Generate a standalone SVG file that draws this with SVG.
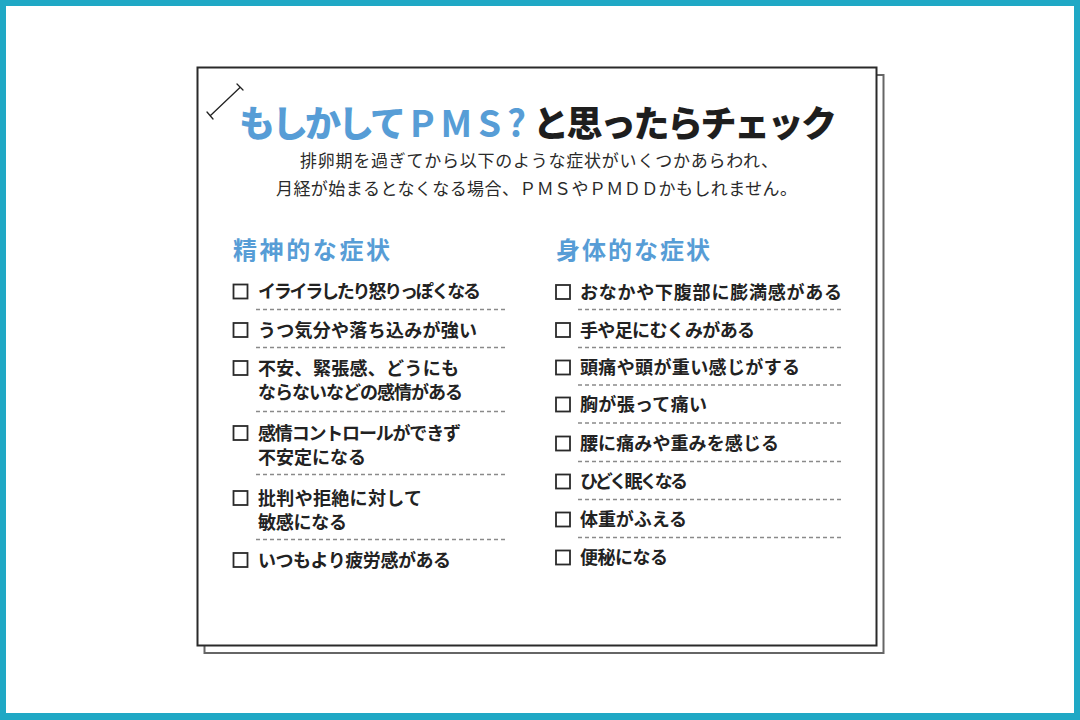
<svg xmlns="http://www.w3.org/2000/svg" width="1080" height="720" viewBox="0 0 1080 720">
<style>
.jp{font-family:"Noto Sans CJK JP","Noto Sans",sans-serif}
.title{font-size:36px;font-weight:800}
.latin{font-size:37px;font-weight:700}
.blue{fill:#579dd6}
.dark{fill:#1e1e1e}
.sub{font-size:17px;font-weight:400;fill:#2a2a2a}
.head{font-size:24px;font-weight:700;fill:#579dd6}
.item{font-size:18px;font-weight:600;fill:#222}
.box{fill:none;stroke:#2a2a2a;stroke-width:1.8}
.dash{stroke:#8a8a8a;stroke-width:1.3;stroke-dasharray:4 3;fill:none}
</style>
<rect x="0" y="0" width="1080" height="720" fill="#1fa8c5"/>
<rect x="6" y="6" width="1068" height="707" fill="#ffffff"/>
<g id="paper">
<rect x="204.5" y="75" width="679" height="578" fill="#fff" stroke="#666" stroke-width="2"/>
<rect x="197.5" y="67.5" width="679" height="578" fill="#fff" stroke="#2a2a2a" stroke-width="2"/>
<path d="M207,112 L213,119 M210.5,115.5 L240,87.5 M237,84 L243,90" fill="none" stroke="#222" stroke-width="1.3" stroke-linecap="round"/>
</g>
<g id="title">
<text class="jp title blue" x="239" y="137" textLength="167" lengthAdjust="spacing">もしかして</text>
<text class="jp latin blue" x="410" y="137" textLength="116" lengthAdjust="spacing">PMS?</text>
<text class="jp title dark" x="533" y="137" textLength="304" lengthAdjust="spacing">と思ったらチェック</text>
<text class="jp sub" x="300" y="167" textLength="478" lengthAdjust="spacing">排卵期を過ぎてから以下のような症状がいくつかあらわれ、</text>
<text class="jp sub" x="276" y="195" textLength="521" lengthAdjust="spacing">月経が始まるとなくなる場合、ＰＭＳやＰＭＤＤかもしれません。</text>
</g>
<g id="mental">
<text class="jp head" x="233" y="259" textLength="157" lengthAdjust="spacing">精神的な症状</text>
<g id="m1"><rect class="box" x="233.5" y="284.5" width="14" height="14"/><text class="jp item" x="258" y="297.5" textLength="223" lengthAdjust="spacing">イライラしたり怒りっぽくなる</text></g>
<g id="m2"><rect class="box" x="233.5" y="323" width="14" height="14"/><text class="jp item" x="258" y="336.5" textLength="219" lengthAdjust="spacing">うつ気分や落ち込みが強い</text></g>
<g id="m3"><rect class="box" x="233.5" y="361" width="14" height="14"/><text class="jp item" x="258" y="374.5" textLength="201" lengthAdjust="spacing">不安、緊張感、どうにも</text><text class="jp item" x="258" y="399" textLength="205" lengthAdjust="spacing">ならないなどの感情がある</text></g>
<g id="m4"><rect class="box" x="233.5" y="426" width="14" height="14"/><text class="jp item" x="258" y="439.5" textLength="203" lengthAdjust="spacing">感情コントロールができず</text><text class="jp item" x="258" y="464" textLength="108" lengthAdjust="spacing">不安定になる</text></g>
<g id="m5"><rect class="box" x="233.5" y="491" width="14" height="14"/><text class="jp item" x="258" y="504.5" textLength="164" lengthAdjust="spacing">批判や拒絶に対して</text><text class="jp item" x="258" y="529" textLength="89" lengthAdjust="spacing">敏感になる</text></g>
<g id="m6"><rect class="box" x="233.5" y="553" width="14" height="14"/><text class="jp item" x="258" y="566.5" textLength="193" lengthAdjust="spacing">いつもより疲労感がある</text></g>
</g>
<g id="physical">
<text class="jp head" x="556" y="259" textLength="154" lengthAdjust="spacing">身体的な症状</text>
<g id="p1"><rect class="box" x="556" y="285" width="14" height="14"/><text class="jp item" x="580" y="298.5" textLength="262" lengthAdjust="spacing">おなかや下腹部に膨満感がある</text></g>
<g id="p2"><rect class="box" x="556" y="323" width="14" height="14"/><text class="jp item" x="580" y="336.5" textLength="175" lengthAdjust="spacing">手や足にむくみがある</text></g>
<g id="p3"><rect class="box" x="556" y="360.5" width="14" height="14"/><text class="jp item" x="580" y="374" textLength="220" lengthAdjust="spacing">頭痛や頭が重い感じがする</text></g>
<g id="p4"><rect class="box" x="556" y="397.5" width="14" height="14"/><text class="jp item" x="580" y="411" textLength="127" lengthAdjust="spacing">胸が張って痛い</text></g>
<g id="p5"><rect class="box" x="556" y="436.5" width="14" height="14"/><text class="jp item" x="580" y="450" textLength="199" lengthAdjust="spacing">腰に痛みや重みを感じる</text></g>
<g id="p6"><rect class="box" x="556" y="474.5" width="14" height="14"/><text class="jp item" x="580" y="488" textLength="108" lengthAdjust="spacing">ひどく眠くなる</text></g>
<g id="p7"><rect class="box" x="556" y="512.5" width="14" height="14"/><text class="jp item" x="580" y="526" textLength="107" lengthAdjust="spacing">体重がふえる</text></g>
<g id="p8"><rect class="box" x="556" y="550.5" width="14" height="14"/><text class="jp item" x="580" y="564" textLength="88" lengthAdjust="spacing">便秘になる</text></g>
</g>
<g id="connectors">
<path class="dash" d="M256,309.5 H505 M256,347.5 H505 M256,411.5 H505 M256,474.5 H505 M256,539.5 H505"/>
<path class="dash" d="M578,309.5 H842 M578,347.5 H842 M578,385 H842 M578,423 H842 M578,461.5 H842 M578,499.5 H842 M578,537.5 H842"/>
</g>
</svg>
